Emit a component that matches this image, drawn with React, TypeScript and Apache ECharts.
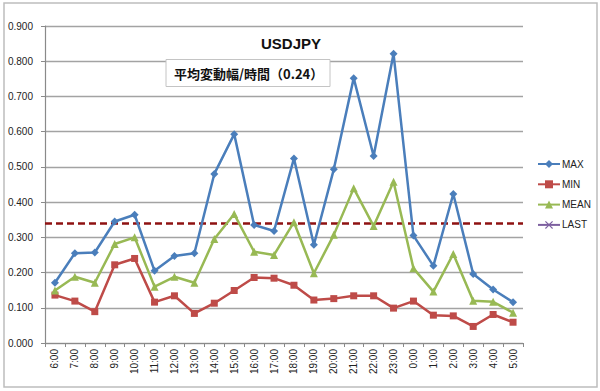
import React, { useEffect, useRef } from "react";
import * as echarts from "echarts";

const categories = [
  "6:00", "7:00", "8:00", "9:00", "10:00", "11:00", "12:00", "13:00", "14:00", "15:00", "16:00", "17:00",
  "18:00", "19:00", "20:00", "21:00", "22:00", "23:00", "0:00", "1:00", "2:00", "3:00", "4:00", "5:00",
];
const maxVals = [0.171, 0.255, 0.257, 0.345, 0.364, 0.205, 0.247, 0.255, 0.48, 0.593, 0.335, 0.318, 0.524, 0.279, 0.493, 0.752, 0.531, 0.821, 0.305, 0.219, 0.423, 0.196, 0.152, 0.116];
const minVals = [0.136, 0.119, 0.089, 0.222, 0.24, 0.116, 0.134, 0.084, 0.113, 0.149, 0.186, 0.184, 0.164, 0.122, 0.126, 0.134, 0.134, 0.099, 0.119, 0.079, 0.077, 0.047, 0.081, 0.059];
const meanVals = [0.149, 0.188, 0.171, 0.281, 0.3, 0.16, 0.188, 0.171, 0.295, 0.366, 0.259, 0.25, 0.343, 0.198, 0.307, 0.439, 0.332, 0.458, 0.212, 0.146, 0.253, 0.12, 0.117, 0.086];
const lastVals: (number | null)[] = [];
const lastLevel = 0.345;
const titleText = "USDJPY";
const noteText = "平均変動幅/時間（0.24）";

const FONT = "'Liberation Sans', Arial, sans-serif";
const CJK = "'Noto Sans CJK JP', 'Liberation Sans', sans-serif";
const X_SYMBOL = "path://M0,1L1,0L5,4L9,0L10,1L6,5L10,9L9,10L5,6L1,10L0,9L4,5Z";

export default function App() {
  const ref = useRef<HTMLDivElement>(null);
  useEffect(() => {
    if (!ref.current) return;
    const chart = echarts.init(ref.current, undefined, { renderer: "svg" });
    chart.setOption({
      animation: false,
      backgroundColor: "#ffffff",
      textStyle: { fontFamily: FONT },
      grid: { left: 45, right: 77, top: 26, bottom: 48, containLabel: false },
      legend: {
        orient: "vertical",
        left: 532,
        top: 154,
        itemWidth: 22,
        itemHeight: 10,
        itemGap: 10.3,
        textStyle: { fontSize: 10, color: "#222", fontFamily: FONT, padding: [0, 0, 0, -3] },
        data: ["MAX", "MIN", "MEAN", "LAST"],
      },
      xAxis: {
        type: "category",
        data: categories,
        boundaryGap: true,
        axisLine: { lineStyle: { color: "#8a8a8a", width: 1.2 } },
        axisTick: { show: true, length: 4, lineStyle: { color: "#8a8a8a" } },
        axisLabel: { rotate: 90, fontSize: 10, color: "#222", margin: 6, interval: 0 },
        splitLine: { show: false },
      },
      yAxis: {
        type: "value",
        min: 0,
        max: 0.9,
        interval: 0.1,
        axisLine: { show: true, lineStyle: { color: "#8a8a8a", width: 1.2 } },
        axisTick: { show: true, length: 4, lineStyle: { color: "#8a8a8a" } },
        axisLabel: { fontSize: 10, color: "#222", margin: 12, formatter: (v: number) => v.toFixed(3) },
        splitLine: { lineStyle: { color: "#a3a3a3", width: 1.3 } },
      },
      series: [
        {
          name: "MAX",
          type: "line",
          data: maxVals,
          symbol: "diamond",
          symbolSize: 8,
          color: "#4a7ebb",
          lineStyle: { width: 2.5, color: "#4a7ebb" },
          itemStyle: { color: "#4a7ebb" },
          z: 4,
        },
        {
          name: "MIN",
          type: "line",
          data: minVals,
          symbol: "rect",
          symbolSize: 7,
          color: "#be4b48",
          lineStyle: { width: 2.5, color: "#be4b48" },
          itemStyle: { color: "#be4b48" },
          z: 3,
        },
        {
          name: "MEAN",
          type: "line",
          data: meanVals,
          symbol: "triangle",
          symbolSize: 8,
          color: "#98b954",
          lineStyle: { width: 2.5, color: "#98b954" },
          itemStyle: { color: "#98b954" },
          z: 3,
          markLine: {
            silent: true,
            symbol: "none",
            label: { show: false },
            lineStyle: { color: "#8e1212", width: 2.5, type: [7, 4] },
            data: [{ yAxis: lastLevel }],
            z: 2,
          },
        },
        {
          name: "LAST",
          type: "line",
          data: lastVals,
          symbol: X_SYMBOL,
          symbolSize: 7,
          color: "#7d60a0",
          lineStyle: { width: 2.5, color: "#7d60a0" },
          itemStyle: { color: "#7d60a0" },
        },
      ],
      graphic: [
        {
          type: "rect",
          shape: { x: 4, y: 3, width: 593, height: 384 },
          style: { fill: "none", stroke: "#bdbdbd", lineWidth: 1.5 },
          silent: true,
          z: 0,
        },
        {
          type: "text",
          x: 291,
          y: 43,
          style: {
            text: titleText,
            fontSize: 15,
            fontWeight: "bold",
            fontFamily: FONT,
            fill: "#111",
            textAlign: "center",
            textVerticalAlign: "middle",
          },
          z: 10,
        },
        {
          type: "rect",
          shape: { x: 166, y: 59.5, width: 164, height: 27 },
          style: { fill: "#ffffff", stroke: "#c4c4c4", lineWidth: 1 },
          z: 10,
        },
        {
          type: "text",
          x: 174,
          y: 73.5,
          style: {
            text: noteText,
            fontSize: 13,
            fontWeight: "bold",
            fontFamily: CJK,
            fill: "#111",
            textAlign: "left",
            textVerticalAlign: "middle",
          },
          z: 11,
        },
      ],
    });
    return () => chart.dispose();
  }, []);
  return (
    <div
      ref={ref}
      style={{ position: "fixed", left: 0, top: 0, width: 600, height: 391, background: "#fff" }}
    />
  );
}
